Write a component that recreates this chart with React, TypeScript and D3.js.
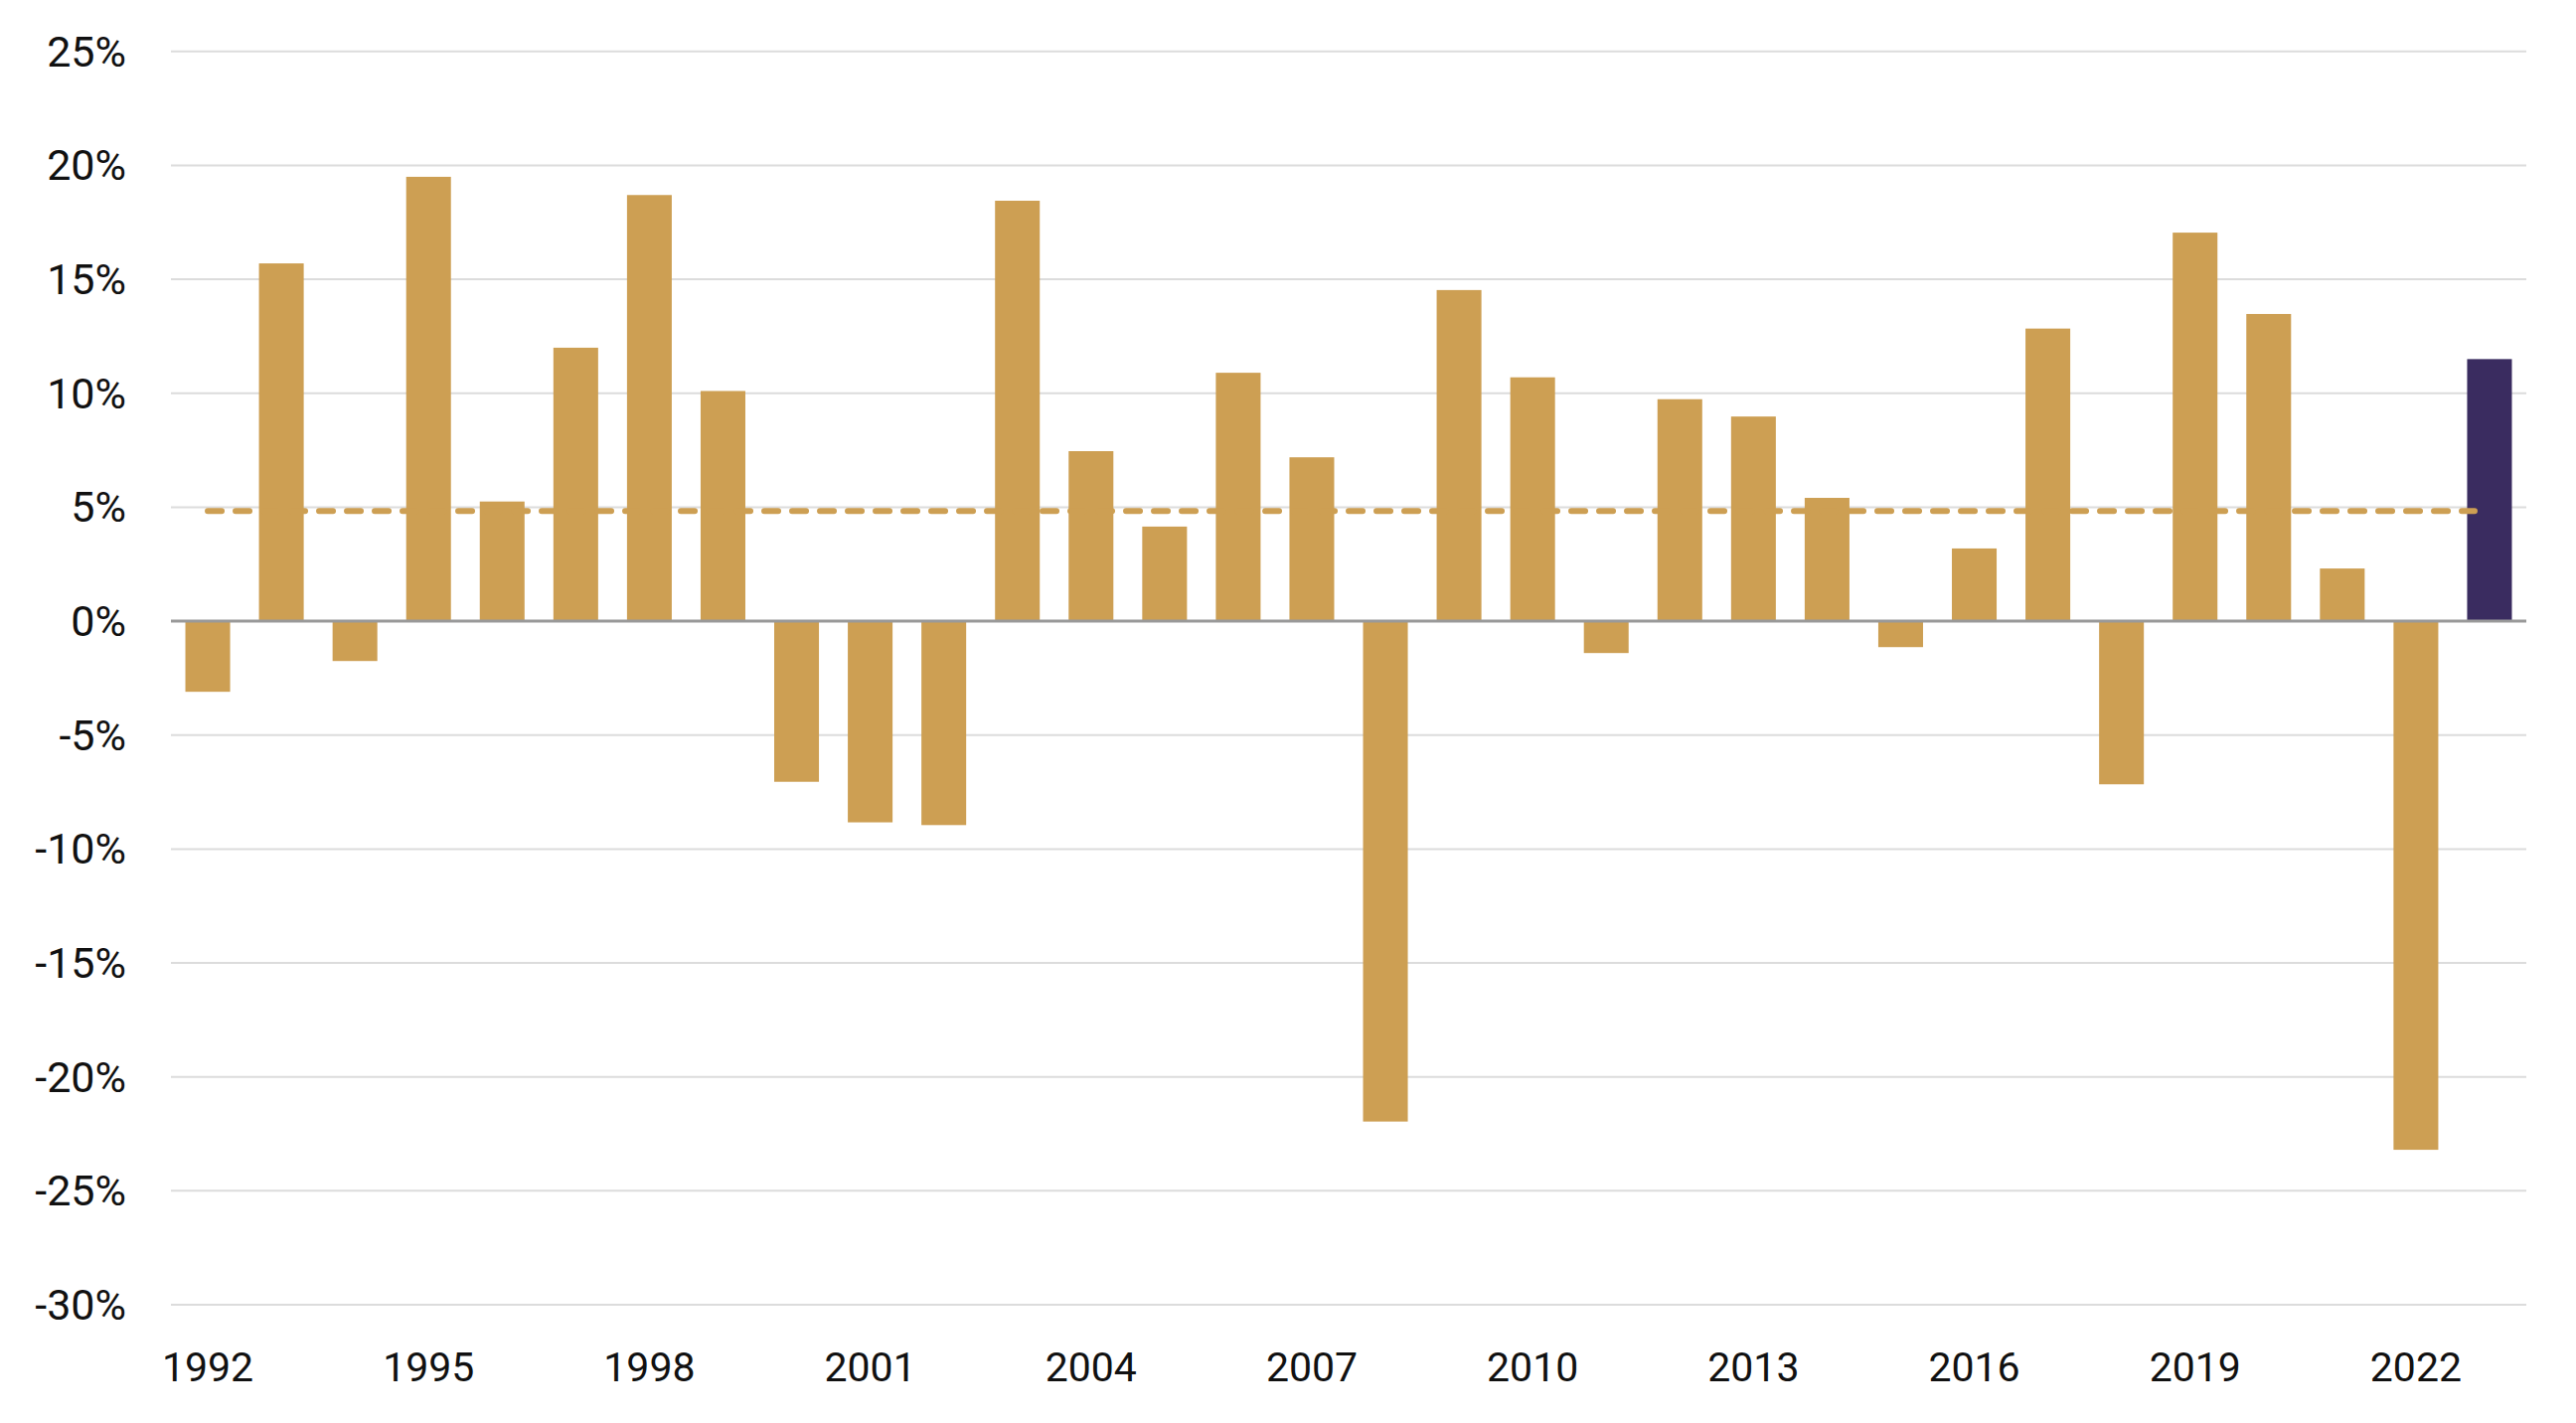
import React from "react";
import * as d3 from "d3";

const years: string[] = [
  "1992","1993","1994","1995","1996","1997","1998","1999","2000","2001","2002",
  "2003","2004","2005","2006","2007","2008","2009","2010","2011","2012","2013",
  "2014","2015","2016","2017","2018","2019","2020","2021","2022","2023",
];
const returns: number[] = [
  -3.1, 15.7, -1.75, 19.5, 5.25, 12.0, 18.7, 10.1, -7.05, -8.83, -8.95,
  18.45, 7.46, 4.15, 10.9, 7.19, -21.96, 14.53, 10.7, -1.4, 9.74, 8.98,
  5.41, -1.14, 3.19, 12.84, -7.16, 17.05, 13.48, 2.31, -23.2, 11.5,
];
const averageReturn = 4.83;
const highlightYear = "2023";
const yTicks: number[] = [25, 20, 15, 10, 5, 0, -5, -10, -15, -20, -25, -30];
const xTickYears: string[] = ["1992","1995","1998","2001","2004","2007","2010","2013","2016","2019","2022"];

const W = 2592;
const H = 1432;
const left = 172;
const right = 2542;
const top = 51.8;
const bottom = 1313;

const GOLD = "#CD9F53";
const PURPLE = "#3A2C60";
const FONT = "Roboto, 'Noto Sans', sans-serif";

export default function App() {
  const x = d3.scaleBand<string>().domain(years).range([left, right]).paddingInner(0.392).paddingOuter(0.196);
  const y = d3.scaleLinear().domain([-30, 25]).range([bottom, top]);
  const bw = x.bandwidth();
  const c0 = (x(years[0]) ?? 0) + bw / 2;
  const cLast = (x(years[years.length - 1]) ?? 0) + bw / 2;

  return (
    <svg width={W} height={H} style={{ position: "absolute", left: 0, top: 0, background: "#fff" }}>
      <g>
        {yTicks.filter((t) => t !== 0).map((t) => (
          <line key={t} x1={left} x2={right} y1={y(t)} y2={y(t)} stroke="#dcdcdc" strokeWidth={2} />
        ))}
      </g>
      <g>
        {yTicks.map((t) => (
          <text key={t} x={127} y={y(t)} textAnchor="end" dominantBaseline="central"
            fontFamily={FONT} fontSize={43} fill="#111">
            {`${t}%`}
          </text>
        ))}
      </g>
      <g>
        {years.map((yr, i) => {
          const v = returns[i];
          const y0 = y(0);
          const yv = y(v);
          return (
            <rect key={yr} x={x(yr)} width={bw} y={Math.min(y0, yv)} height={Math.abs(yv - y0)}
              fill={yr === highlightYear ? PURPLE : GOLD} />
          );
        })}
      </g>
      <line x1={left} x2={right} y1={y(0)} y2={y(0)} stroke="#999" strokeWidth={3} />
      <line x1={c0} x2={cLast - 15} y1={y(averageReturn)} y2={y(averageReturn)}
        stroke={GOLD} strokeWidth={6} strokeDasharray="14 14" strokeLinecap="round" />
      <g>
        {xTickYears.map((yr) => (
          <text key={yr} x={(x(yr) ?? 0) + bw / 2} y={1376} textAnchor="middle" dominantBaseline="central"
            fontFamily={FONT} fontSize={41} fill="#111">
            {yr}
          </text>
        ))}
      </g>
    </svg>
  );
}
